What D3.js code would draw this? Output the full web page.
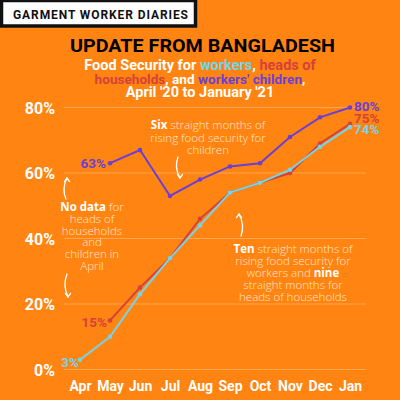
<!DOCTYPE html>
<html><head><meta charset="utf-8">
<script src="https://cdn.jsdelivr.net/npm/d3@7"></script>
<style>
html,body{margin:0;padding:0;background:#ff8412;}
svg{display:block;}
</style></head>
<body>
<script>
const months = ["Apr","May","Jun","Jul","Aug","Sep","Oct","Nov","Dec","Jan"];
const workers = [3,10,23,34,44,54,57,61,68,74];
const heads = [null,15,25,34,46,54,57,60,69,75];
const children = [null,63,67,53,58,62,63,71,77,80];
const yTicks = [0,20,40,60,80];

const W=400,H=400;
const bg="#ff8412", cW="#74d4e8", cH="#d5413b", cC="#6b3fd6";
const svg=d3.select("body").append("svg").attr("width",W).attr("height",H);
svg.append("rect").attr("width",W).attr("height",H).attr("fill",bg);

// header box
svg.append("rect").attr("x",1.5).attr("y",0.5).attr("width",194).attr("height",25.5).attr("fill","#fff").attr("stroke","#111").attr("stroke-width",3.5);
svg.append("text").attr("x",13).attr("y",18.5)
  .attr("font-family","Roboto, sans-serif").attr("font-weight",700).attr("font-size",12)
  .attr("textLength",175).attr("lengthAdjust","spacing")
  .attr("fill","#111").text("GARMENT WORKER DIARIES");

// title
svg.append("text").attr("x",70).attr("y",52)
  .attr("font-family","Roboto, sans-serif").attr("font-weight",700).attr("font-size",19)
  .attr("textLength",265).attr("lengthAdjust","spacingAndGlyphs")
  .attr("fill","#000").text("UPDATE FROM BANGLADESH");

const sub=[
  [["Food Security for ","#fff"],["workers",cW],[", ","#fff"],["heads of",cH]],
  [["households",cH],[", and ","#fff"],["workers' children",cC],[",","#fff"]],
  [["April '20 to January '21","#fff"]]
];
const subFS=[14.5,13.6,14.5];
sub.forEach((line,i)=>{
  const t=svg.append("text").attr("x",200).attr("y",70+i*13.5).attr("text-anchor","middle")
    .attr("font-family","Roboto, sans-serif").attr("font-weight",700).attr("font-size",subFS[i]);
  line.forEach(([s,c])=>t.append("tspan").attr("fill",c).text(s));
});

const x=d3.scalePoint().domain(months).range([80,350]);
const y=d3.scaleLinear().domain([0,80]).range([369.5,107.5]);

// grid
const grid=svg.append("g");
grid.selectAll("line").data(yTicks).join("line")
  .attr("x1",64).attr("x2",366).attr("y1",d=>y(d)).attr("y2",d=>y(d))
  .attr("stroke","#ffa450").attr("stroke-width",1);

// y axis
const yAxis=svg.append("g").attr("transform","translate(55,0)")
  .call(d3.axisLeft(y).tickValues(yTicks).tickSize(0).tickPadding(0).tickFormat(d=>d+"%"));
yAxis.select(".domain").remove();
yAxis.selectAll("text").attr("fill","#fff").attr("font-family","Roboto, sans-serif")
  .attr("font-weight",700).attr("font-size",16).attr("dy","0.35em");

// x axis
const xAxis=svg.append("g").attr("transform","translate(0,378)")
  .call(d3.axisBottom(x).tickSize(0).tickPadding(0));
xAxis.select(".domain").remove();
xAxis.selectAll("text").attr("fill","#fff").attr("font-family","Roboto, sans-serif")
  .attr("font-weight",700).attr("font-size",14).attr("dy","0.71em").attr("y",3);

// annotations
function note(lines,cx,cy,lh){
  lines.forEach((ln,i)=>{
    const t=svg.append("text").attr("x",cx).attr("y",cy+i*lh).attr("text-anchor","middle")
      .attr("font-family","'Open Sans', sans-serif").attr("font-size",11.5).attr("fill","#ffe6cc");
    ln.forEach(([s,b])=>t.append("tspan").attr("font-weight",b?700:300).attr("fill",b?"#fff":"#ffe6cc").text(s));
  });
}
note([[["Six",1],[" straight months of",0]],[["rising food security for",0]],[["children",0]]],208,129,12.5);
note([[["No data",1],[" for",0]],[["heads of",0]],[["households",0]],[["and",0]],[["children in",0]],[["April",0]]],92,211,11.8);
note([[["Ten",1],[" straight months of",0]],[["rising food security for",0]],[["workers and ",0],["nine",1]],[["straight months for",0]],[["heads of households",0]]],293,252.5,12);

// arrows
function arrow(x0,y0,x1,y1,bend,up){
  const mx=(x0+x1)/2+bend, my=(y0+y1)/2;
  svg.append("path").attr("d",`M${x0},${y0} Q${mx},${my} ${x1},${y1}`)
    .attr("fill","none").attr("stroke","#fff").attr("stroke-width",1.3).attr("stroke-linecap","round");
  const s=up?1:-1;
  svg.append("path").attr("d",`M${x0-2.5},${y0+3.5*s} L${x0},${y0} L${x0+2.5},${y0+3.5*s}`)
    .attr("fill","none").attr("stroke","#fff").attr("stroke-width",1.3).attr("stroke-linecap","round");
}
arrow(67,178,66,199,-5,true);
arrow(68,297,67,274,-5,false);
arrow(180,178,178,157,-5,false);
arrow(239,214,241,236,5,true);

// lines
const line=d3.line().defined(d=>d.v!=null).x(d=>x(d.m)).y(d=>y(d.v));
[[children,cC],[heads,cH],[workers,cW]].forEach(([arr,c])=>{
  const data=months.map((m,i)=>({m,v:arr[i]}));
  svg.append("path").datum(data).attr("d",line).attr("fill","none").attr("stroke",c).attr("stroke-width",2);
  svg.append("g").selectAll("circle").data(data.filter(d=>d.v!=null)).join("circle")
    .attr("cx",d=>x(d.m)).attr("cy",d=>y(d.v)).attr("r",2.3).attr("fill",c);
});

// value labels
function vlab(arr,i,c,dx,dy,anchor){
  svg.append("text").attr("x",x(months[i])+dx).attr("y",y(arr[i])+dy).attr("text-anchor",anchor)
    .attr("font-family","Roboto, sans-serif").attr("font-weight",700).attr("font-size",13.5)
    .attr("fill",c).attr("dy","0.35em").text(arr[i]+"%");
}
vlab(children,9,cC,4,-1,"start");
vlab(heads,9,cH,4,-6,"start");
vlab(workers,9,cW,4,2,"start");
vlab(children,1,cC,-4,0,"end");
vlab(heads,1,cH,-3,2,"end");
vlab(workers,0,cW,-1,3,"end");
</script>
</body></html>
